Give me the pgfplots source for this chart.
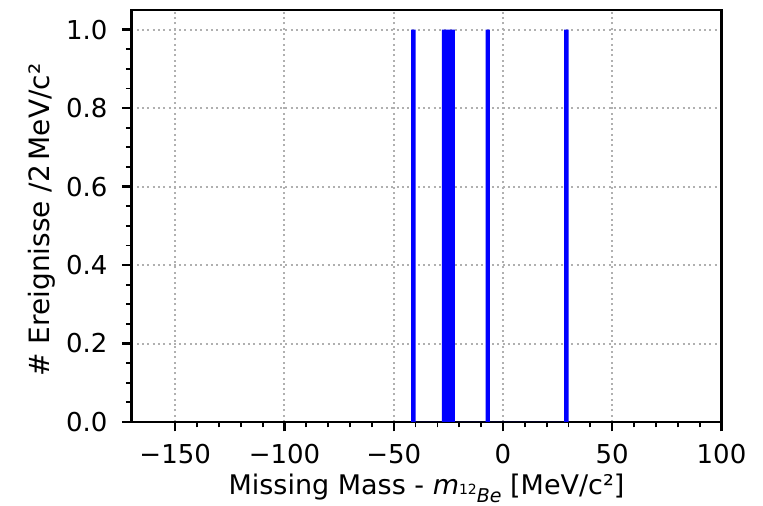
\documentclass[border=0pt]{standalone}
\usepackage{fontspec}
\setmainfont{DejaVu Sans}
\usepackage{pgfplots}
\pgfplotsset{compat=1.18}
\definecolor{gridgray}{HTML}{B0B0B0}
\begin{document}
\begin{tikzpicture}
\begin{axis}[
  scale only axis, width=590pt, height=412pt,
  xmin=-170, xmax=100, ymin=0, ymax=1.05,
  xtick={-150,-100,-50,0,50,100},
  xticklabels={−150,−100,−50,0,50,100},
  ytick={0,0.2,0.4,0.6,0.8,1.0},
  yticklabels={0.0,0.2,0.4,0.6,0.8,1.0},
  minor x tick num=4, minor y tick num=3,
  tick align=outside, xtick pos=bottom, ytick pos=left,
  major tick length=9.5pt, minor tick length=5.5pt,
  major tick style={line width=2.4pt, black},
  minor tick style={line width=1.8pt, black},
  axis line style={line width=2.8pt},
  grid=major,
  major grid style={gridgray, line width=2pt, dash pattern=on 2pt off 3.3pt},
  tick label style={font=\fontsize{26}{30}\selectfont},
  yticklabel style={xshift=-11pt},
  xticklabel style={yshift=-9pt},
  every axis x label/.style={at={(axis description cs:0.5,-0.176)}, anchor=base, font=\fontsize{27}{32}\selectfont},
  every axis y label/.style={at={(axis description cs:-0.1517,0.49)}, rotate=90, anchor=center, font=\fontsize{28}{32}\selectfont},
  xlabel={Missing Mass - \textit{m}\raisebox{-0.28em}{\fontsize{19}{19}\selectfont\raisebox{0.4em}{\fontsize{14}{14}\selectfont 12}\textit{Be}} [MeV/c²]},
  ylabel={\# Ereignisse /2\,MeV/c²},
]
\addplot[ybar interval, fill=blue, draw=none] coordinates {
  (-42,1) (-40,0) (-28,1) (-26,1) (-24,1) (-22,0) (-8,1) (-6,0) (28,1) (30,0)
};
\end{axis}
\path (-131.5pt,-82pt) rectangle (631.5pt,422pt);
\end{tikzpicture}
\end{document}
